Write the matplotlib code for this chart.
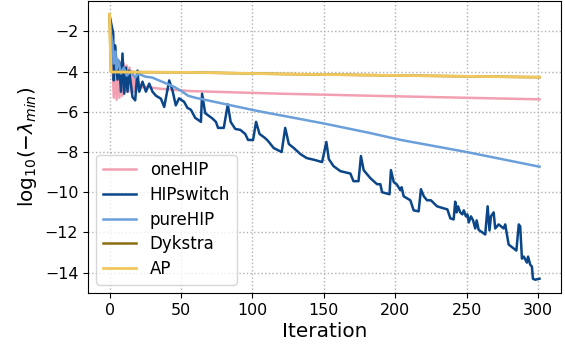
import numpy as np
import matplotlib as mpl
mpl.use('Agg')
import matplotlib.pyplot as plt

# values (iteration, log10(-lambda_min))
onehip_x = [0, 1, 2, 3, 4, 5, 6, 7, 8, 9, 10, 11, 12, 13, 14, 15, 16, 17, 18, 19,
            20, 22, 25, 35, 57, 120, 182, 301]
onehip_y = [-1.2, -2.3, -3.5, -5.3, -3.3, -5.4, -3.5, -5.3, -3.6, -5.2, -3.6, -5.0,
            -3.7, -5.0, -3.8, -5.0, -4.0, -5.0, -4.2, -4.9, -4.5, -4.8, -4.75, -4.85,
            -4.97, -5.1, -5.2, -5.38]

hipswitch_x = [0, 2.6, 3, 4, 5.6, 6.8, 8, 9.1, 10.3, 11.5, 12.6, 13.8, 16.1, 18, 19.6,
               20.8, 23.1, 25.5, 27.8, 30.1, 32.5, 36, 38.3, 41.8, 44.1, 46.4, 48.7,
               52.2, 54.5, 57, 60, 64, 64.8, 67, 72, 74.5, 76, 80, 82.8, 84.8, 88,
               91.6, 95, 97, 100.5, 102.6, 105, 108.8, 111, 114.9, 120.5, 123, 125.5,
               129, 133.6, 138, 144, 148.8, 151.8, 153.5, 156.8, 161.6, 168.6, 170.8,
               174.3, 176, 177.9, 182.6, 187.3, 189.6, 190.8, 196, 197, 199, 201,
               203.6, 204.5, 205.9, 210.6, 212.9, 216.4, 218, 220, 222.3, 225, 229.3,
               233.9, 236.5, 238.6, 240.9, 242, 243, 244, 245.5, 247, 248, 249.5,
               250.5, 251.5, 253, 254.5, 256, 257, 258.4, 263, 264.7, 266, 267, 268.9,
               270, 272.4, 275.9, 277, 279.4, 283, 284.8, 286.5, 287.5, 288.7, 290,
               292.2, 293, 294.5, 295.7, 296.4, 298, 301]
hipswitch_y = [-1.2, -2.1, -4.44, -2.7, -4.4, -3.5, -5.0, -3.1, -5.1, -3.8, -5.0, -3.95,
               -5.27, -5.43, -3.95, -5.0, -4.5, -5.0, -4.6, -5.0, -5.2, -5.35, -5.76,
               -4.44, -4.94, -5.68, -5.33, -5.5, -5.8, -5.9, -6.3, -6.5, -5.1, -6.07,
               -6.33, -6.5, -6.8, -6.8, -5.63, -6.5, -6.85, -6.9, -7.1, -7.4, -7.4,
               -6.5, -7.1, -7.3, -7.45, -7.8, -8.0, -6.8, -7.6, -7.8, -8.1, -8.3,
               -8.4, -8.5, -7.5, -8.35, -8.7, -8.95, -9.07, -9.45, -9.45, -8.2, -8.9,
               -9.3, -9.6, -9.6, -10.0, -10.1, -8.9, -9.5, -9.6, -9.9, -9.75, -10.2,
               -10.4, -10.9, -10.95, -9.85, -10.2, -10.4, -10.4, -10.7, -10.8, -10.85,
               -11.3, -11.35, -10.47, -11.0, -10.7, -11.0, -11.1, -10.9, -11.2, -11.1,
               -11.5, -11.2, -11.4, -11.8, -11.4, -11.87, -12.1, -10.7, -11.9, -11.2,
               -11.0, -11.8, -11.6, -11.8, -11.6, -12.6, -12.8, -12.9, -11.6, -11.7,
               -13.3, -13.2, -13.5, -13.2, -13.6, -13.7, -14.3, -14.35, -14.3]

purehip_x = [0, 1, 2, 3, 4, 5, 6, 8, 10, 12, 15, 18, 20, 25, 30, 35, 40, 45, 50, 55,
             60, 103, 150, 182, 204, 250, 301]
purehip_y = [-1.2, -2.1, -2.5, -3.6, -3.0, -3.9, -3.4, -4.1, -3.8, -4.2, -4.0, -4.3,
             -4.1, -4.25, -4.3, -4.45, -4.6, -4.75, -4.95, -5.2, -5.3, -5.95, -6.58,
             -7.05, -7.4, -8.0, -8.73]

ap_x = [0, 1, 57, 120, 301]
ap_y = [-1.15, -4.02, -4.04, -4.12, -4.28]
# Dykstra sits exactly under AP in the picture
dykstra_x = ap_x
dykstra_y = ap_y

colors = {'oneHIP': '#f2a0b1', 'HIPswitch': '#0b4689', 'pureHIP': '#6b9fd9',
          'Dykstra': '#8c6d12', 'AP': '#f0c85e'}

fig = plt.figure(figsize=(5.65, 3.47), dpi=100)
ax = fig.add_subplot(111)
fig.subplots_adjust(left=88/565, right=561/565, bottom=54/347, top=346/347)

ax.plot(onehip_x, onehip_y, color=colors['oneHIP'], lw=1.8, label='oneHIP')
ax.plot(hipswitch_x, hipswitch_y, color=colors['HIPswitch'], lw=1.8, label='HIPswitch')
ax.plot(purehip_x, purehip_y, color=colors['pureHIP'], lw=1.8, label='pureHIP')
ax.plot(dykstra_x, dykstra_y, color=colors['Dykstra'], lw=1.8, label='Dykstra')
ax.plot(ap_x, ap_y, color=colors['AP'], lw=2.0, label='AP')

ax.grid(True, linestyle=':', color='#b0b0b0', lw=1)
ax.set_xticks([0, 50, 100, 150, 200, 250, 300])
ax.set_yticks([-2, -4, -6, -8, -10, -12, -14])
ax.tick_params(labelsize=11.4)
ax.set_xlabel('Iteration', fontsize=14.4, labelpad=3)
ax.set_ylabel(r'log$_{10}$($-\lambda_{min}$)', fontsize=14.4)
ax.legend(loc='lower left', fontsize=12, labelspacing=0.4)

fig.savefig('out.png', dpi=100)
